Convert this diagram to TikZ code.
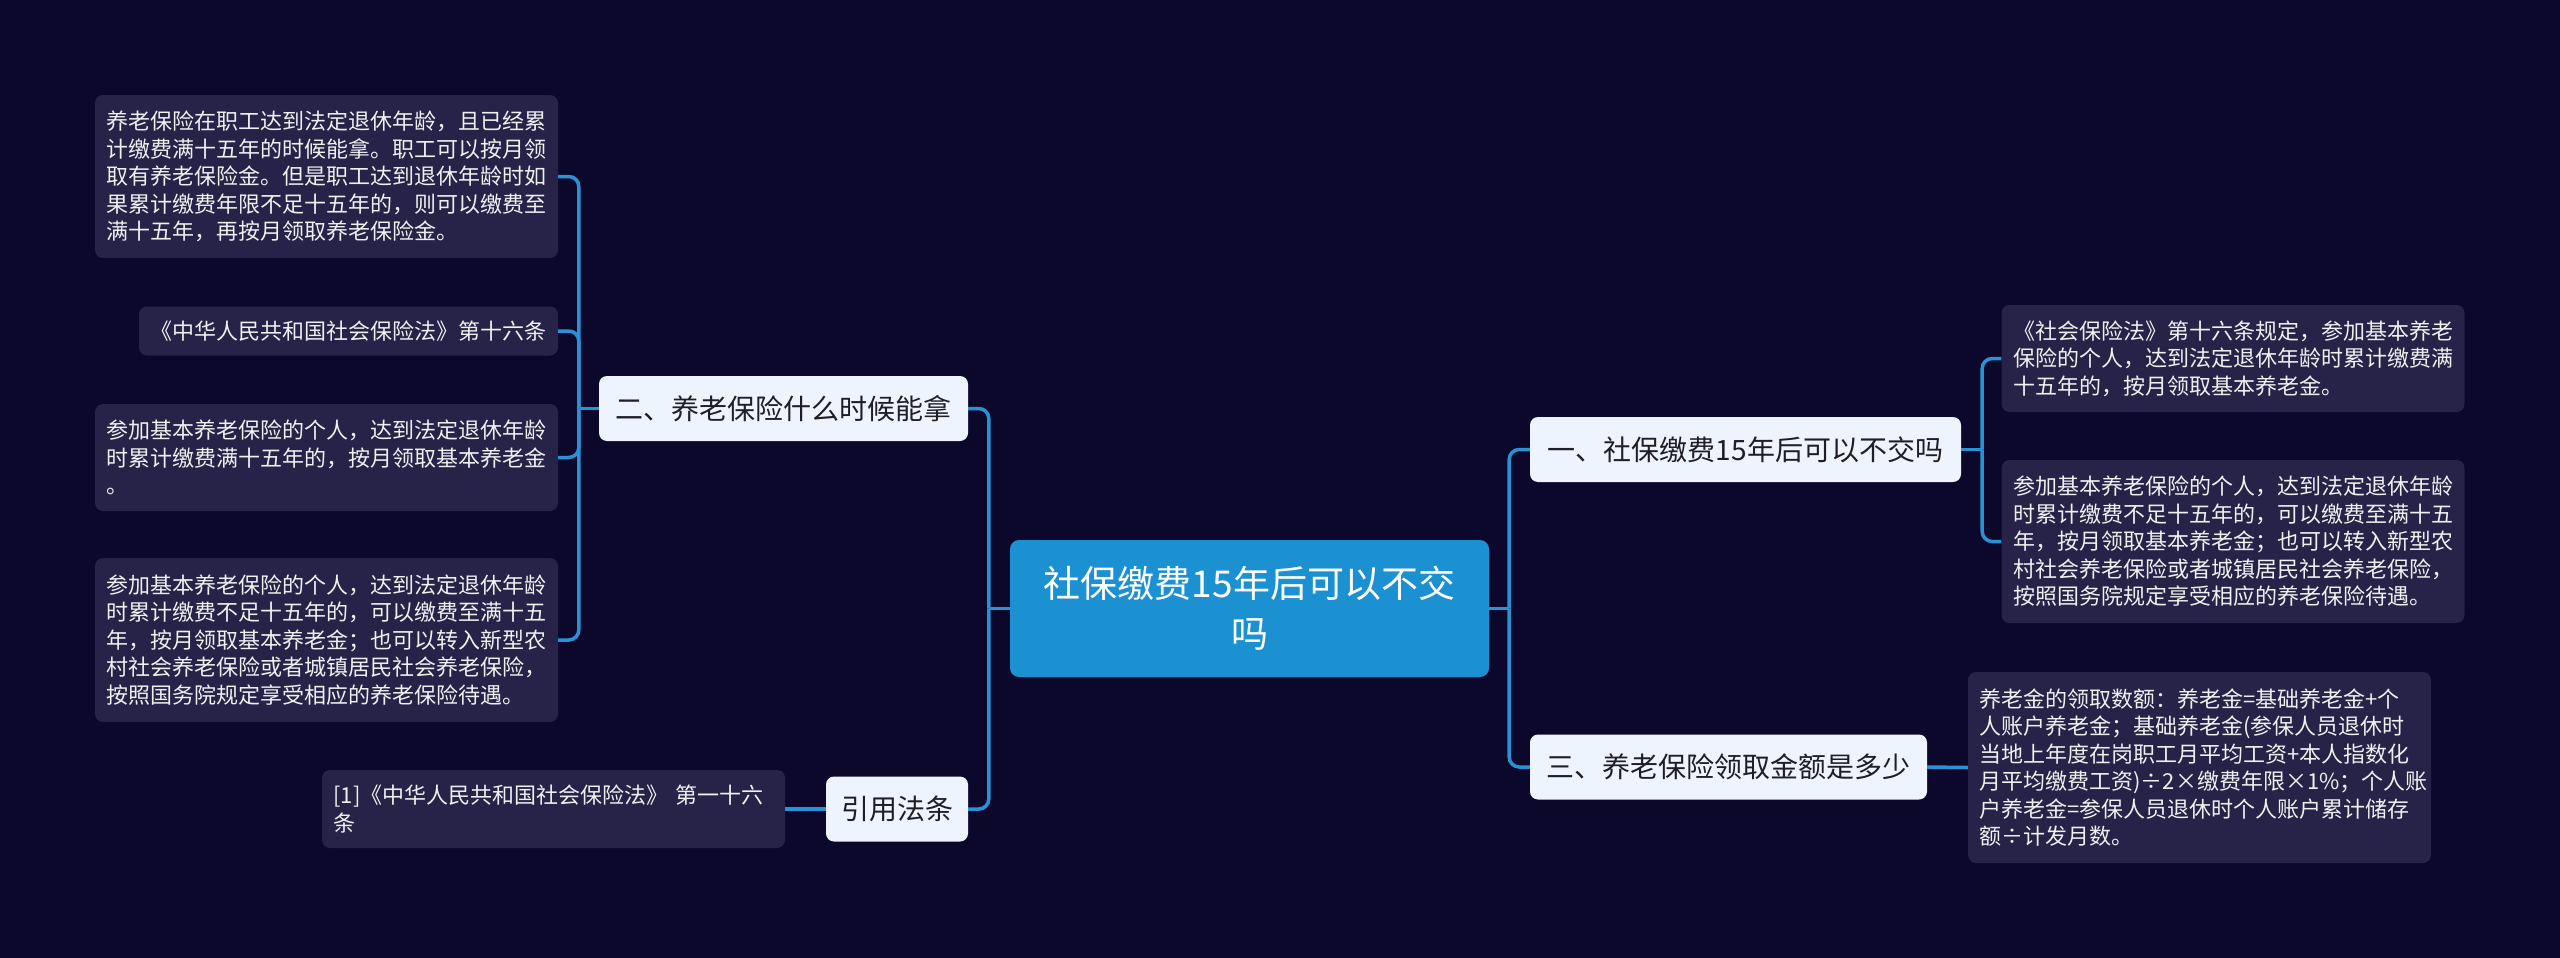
\documentclass[tikz,border=0pt]{standalone}
\usepackage{fontspec}
\setmainfont{Noto Sans CJK SC}
\definecolor{bgc}{RGB}{12,8,44}
\definecolor{leafc}{RGB}{38,34,72}
\definecolor{rootc}{RGB}{27,145,210}
\definecolor{lonec}{RGB}{237,244,253}
\definecolor{connc}{RGB}{40,146,212}
\definecolor{darkt}{RGB}{30,30,36}
\tikzset{
  leaf/.style={fill=leafc, rounded corners=8pt, text=white!94!black, align=left,
    font=\fontsize{22}{27.5}\selectfont, text width=440pt, inner xsep=11.5pt, inner ysep=0pt},
  lone/.style={fill=lonec, rounded corners=8pt, text=darkt, align=center,
    font=\fontsize{28}{34}\selectfont, minimum height=65pt, inner sep=0pt},
  rootbox/.style={fill=rootc, rounded corners=9pt, text=white, align=center,
    font=\fontsize{37}{50}\selectfont, minimum width=479pt, minimum height=137pt, inner sep=0pt},
  conn/.style={draw=connc, line width=3.5pt, rounded corners=10pt}
}
\begin{document}
\begin{tikzpicture}[x=1pt,y=-1pt]
\useasboundingbox (0,0) rectangle (2560,958);
\fill[bgc] (0,0) rectangle (2560,958);

% root
\node[rootbox] (root) at (1249.5,608.5) {社保缴费15年后可以不交\\吗};

% level one
\node[lone, minimum width=369pt] (two) at (783.5,408.5) {二、养老保险什么时候能拿};
\node[lone, minimum width=142pt] (cite) at (897,809) {引用法条};
\node[lone, minimum width=431pt] (one) at (1745.5,449.5) {一、社保缴费15年后可以不交吗};
\node[lone, minimum width=397pt] (three) at (1728.5,767) {三、养老保险领取金额是多少};

% left leaves
\node[leaf, minimum height=163pt] (la) at (326.5,176.5) {养老保险在职工达到法定退休年龄，且已经累\\计缴费满十五年的时候能拿。职工可以按月领\\取有养老保险金。但是职工达到退休年龄时如\\果累计缴费年限不足十五年的，则可以缴费至\\满十五年，再按月领取养老保险金。};
\node[leaf, text width=396pt, minimum height=49pt] (lb) at (348.5,331) {《中华人民共和国社会保险法》第十六条};
\node[leaf, minimum height=107pt] (lc) at (326.5,457.5) {参加基本养老保险的个人，达到法定退休年龄\\时累计缴费满十五年的，按月领取基本养老金\\。};
\node[leaf, minimum height=164pt] (ld) at (326.5,640) {参加基本养老保险的个人，达到法定退休年龄\\时累计缴费不足十五年的，可以缴费至满十五\\年，按月领取基本养老金；也可以转入新型农\\村社会养老保险或者城镇居民社会养老保险，\\按照国务院规定享受相应的养老保险待遇。};
\node[leaf, minimum height=78pt] (le) at (553.5,809) {[1]《中华人民共和国社会保险法》 第一十六\\条};

% right leaves
\node[leaf, minimum height=107pt] (ra) at (2233,358.5) {《社会保险法》第十六条规定，参加基本养老\\保险的个人，达到法定退休年龄时累计缴费满\\十五年的，按月领取基本养老金。};
\node[leaf, minimum height=163pt] (rb) at (2233,541.5) {参加基本养老保险的个人，达到法定退休年龄\\时累计缴费不足十五年的，可以缴费至满十五\\年，按月领取基本养老金；也可以转入新型农\\村社会养老保险或者城镇居民社会养老保险，\\按照国务院规定享受相应的养老保险待遇。};
\node[leaf, minimum height=191pt] (rc) at (2199.5,767.5) {养老金的领取数额：养老金=基础养老金+个\\人账户养老金；基础养老金(参保人员退休时\\当地上年度在岗职工月平均工资+本人指数化\\月平均缴费工资)÷2×缴费年限×1\%；个人账\\户养老金=参保人员退休时个人账户累计储存\\额÷计发月数。};

% junction coordinates
\coordinate (sl) at ([xshift=-21pt]root.west);
\coordinate (sr) at ([xshift=20pt]root.east);
\coordinate (stwo) at ([xshift=-20pt]two.west);
\coordinate (sone) at ([xshift=21pt]one.east);

% connectors
\draw[conn] (root.west) -- (sl);
\draw[conn] (sl) |- (two.east);
\draw[conn] (sl) |- (cite.east);
\draw[conn] (root.east) -- (sr);
\draw[conn] (sr) |- (one.west);
\draw[conn] (sr) |- (three.west);

\draw[conn] (two.west) -- (stwo);
\draw[conn] (stwo) |- (la.east);
\draw[conn] (stwo) |- (lb.east);
\draw[conn] (stwo) |- (lc.east);
\draw[conn] (stwo) |- (ld.east);
\draw[conn] (cite.west) -- (le.east);

\draw[conn] (one.east) -- (sone);
\draw[conn] (sone) |- (ra.west);
\draw[conn] (sone) |- (rb.west);
\draw[conn] (three.east) -- (rc.west);
\end{tikzpicture}
\end{document}
